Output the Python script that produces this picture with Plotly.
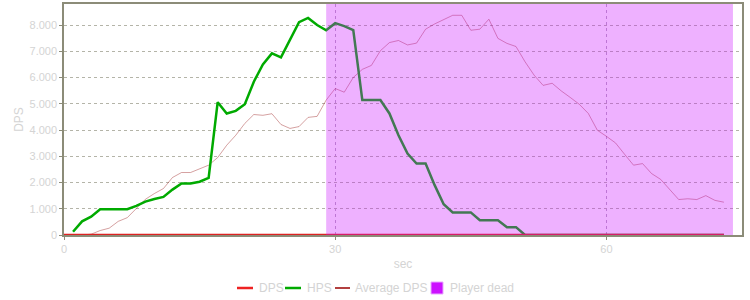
import plotly.graph_objects as go

sec = list(range(1, 74))
dps_sec = list(range(0, 74))
dps = [0] * 74
hps = [125, 520, 700, 980, 980, 980, 980, 1110, 1270, 1370,
       1450, 1730, 1960, 1960, 2030, 2180, 5060, 4630, 4730, 4980,
       5840, 6500, 6920, 6770, 7450, 8110, 8270, 8000, 7800, 8070,
       7960, 7810, 5140, 5140, 5140, 4630, 3800, 3100, 2720, 2720,
       1900, 1170, 860, 860, 860, 560, 560, 560, 300, 300,
       0, 0, 0, 0, 0, 0, 0, 0, 0, 0,
       0, 0, 0, 0, 0, 0, 0, 0, 0, 0,
       0, 0, 0]
avg_dps = [0, 0, 30, 170, 260, 520, 660, 1000, 1360, 1580,
           1770, 2190, 2380, 2380, 2530, 2660, 2950, 3420, 3800, 4250,
           4590, 4560, 4620, 4210, 4060, 4130, 4480, 4520, 5140, 5580,
           5440, 6000, 6310, 6460, 7020, 7330, 7410, 7240, 7310, 7840,
           8040, 8190, 8370, 8370, 7800, 7840, 8220, 7490, 7300, 7180,
           6600, 6090, 5700, 5780, 5490, 5240, 4980, 4630, 3990, 3760,
           3510, 3080, 2660, 2720, 2340, 2120, 1730, 1350, 1380, 1350,
           1500, 1320, 1250]
dead_start, dead_end = 29, 74
y_ticks = [0, 1000, 2000, 3000, 4000, 5000, 6000, 7000, 8000]
legend_names = ["DPS", "HPS", "Average DPS", "Player dead"]

TXT = "#d4d4d4"
FONT = "Liberation Sans, Arial, sans-serif"
W, H = 750, 300
ML, MR, MT, MB = 64, 8, 4, 65
PW, PH = W - ML - MR, H - MT - MB


def px(x):
    return (x - ML) / PW


def py(y):
    return (H - MB - y) / PH


fig = go.Figure()
fig.add_trace(go.Scatter(x=sec, y=avg_dps, mode="lines", name="Average DPS",
                         line=dict(color="rgba(150,20,20,0.4)", width=1),
                         showlegend=False))
fig.add_trace(go.Scatter(x=sec, y=hps, mode="lines", name="HPS",
                         line=dict(color="#00aa00", width=2.5), showlegend=False))
fig.add_trace(go.Scatter(x=dps_sec, y=dps, mode="lines", name="DPS",
                         line=dict(color="#dd2222", width=2.5), showlegend=False))

fig.add_shape(type="rect", xref="x", yref="paper", x0=dead_start, x1=dead_end,
              y0=0, y1=1, fillcolor="#cc11ff", opacity=0.33, line_width=0,
              layer="above")

# custom legend (pixel layout of the reference)
ly = 288
swatches = [
    (237, 253, "#ee2222", 2.5),
    (285, 301, "#00aa00", 2.5),
    (335, 350, "#990000", 1.5),
]
text_x = [257, 305, 353, 448]
for (x0, x1, c, w) in swatches:
    fig.add_shape(type="line", xref="paper", yref="paper", x0=px(x0), x1=px(x1),
                  y0=py(ly), y1=py(ly), line=dict(color=c, width=w))
fig.add_shape(type="rect", xref="paper", yref="paper", x0=px(431), x1=px(443),
              y0=py(294), y1=py(282), fillcolor="#cc11ff",
              line=dict(color="#e8a8ff", width=1))
for name, tx in zip(legend_names, text_x):
    fig.add_annotation(text=name, xref="paper", yref="paper", x=px(tx), y=py(ly),
                       xanchor="left", yanchor="middle", showarrow=False,
                       font=dict(size=12, color=TXT))

fig.update_layout(
    width=W, height=H,
    margin=dict(l=ML, r=MR, t=MT, b=MB),
    paper_bgcolor="white", plot_bgcolor="white",
    font=dict(family=FONT, size=11, color=TXT),
    separators=",.",
    showlegend=False,
    xaxis=dict(range=[0, 75], tickvals=[0, 30, 60], showgrid=True,
               gridcolor="#b8a8c0", griddash="3px,3px", gridwidth=1,
               zeroline=False, showline=True, linecolor="#8c8c78", linewidth=1.5,
               mirror=True, ticks="outside", ticklen=3, tickcolor="#8c8c78",
               automargin=False,
               title=dict(text="sec", font=dict(size=12, color=TXT), standoff=6),
               tickfont=dict(size=11, color=TXT)),
    yaxis=dict(range=[0, 8800], tickvals=y_ticks, tickformat=",d", showgrid=True,
               gridcolor="#b4b4a8", griddash="3px,3px", gridwidth=1,
               zeroline=False, showline=True, linecolor="#8c8c78", linewidth=1.5,
               mirror=True, ticks="outside", ticklen=3, tickcolor="#8c8c78",
               automargin=False,
               title=dict(text="DPS", font=dict(size=12, color=TXT), standoff=3),
               tickfont=dict(size=11, color=TXT)),
)

fig.write_html("out.html")
